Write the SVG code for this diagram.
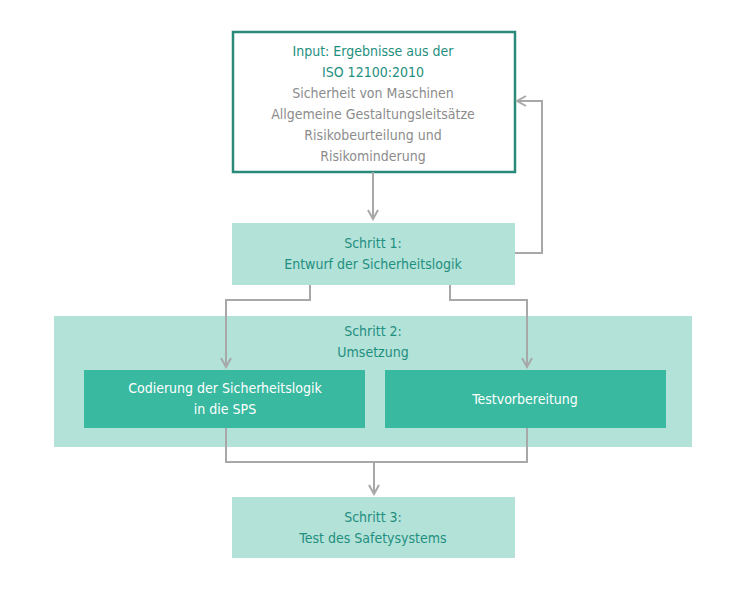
<svg xmlns="http://www.w3.org/2000/svg" width="744" height="595" viewBox="0 0 744 595">
<style>
text{font-family:"DejaVu Sans Condensed","Liberation Sans Narrow","Liberation Sans",sans-serif;font-size:14px;text-anchor:middle}
.t{fill:#1f8f80}.g{fill:#8c8c8c}.w{fill:#ffffff}
.light{fill:#b3e2d8}.dark{fill:#38b9a0}
.c{fill:none;stroke:#a8a8a8;stroke-width:2}
</style>
<defs><marker id="a" markerWidth="12" markerHeight="12" refX="10" refY="6" orient="auto" markerUnits="userSpaceOnUse"><path d="M1,1 L10,6 L1,11" fill="none" stroke="#a8a8a8" stroke-width="2"/></marker></defs>
<rect width="744" height="595" fill="#fff"/>
<g id="schritt2"><rect class="light" x="54" y="316" width="638" height="131"/><text class="t" x="373" y="336">Schritt 2:</text><text class="t" x="373" y="357">Umsetzung</text></g>
<g id="input"><rect x="233" y="32" width="282" height="140" fill="#fff" stroke="#2a8a7a" stroke-width="2.5"/>
<text class="t" x="373" y="56">Input: Ergebnisse aus der</text><text class="t" x="373" y="77">ISO 12100:2010</text>
<text class="g" x="373" y="98">Sicherheit von Maschinen</text><text class="g" x="373" y="119">Allgemeine Gestaltungsleitsätze</text>
<text class="g" x="373" y="140">Risikobeurteilung und</text><text class="g" x="373" y="161">Risikominderung</text></g>
<g id="schritt1"><rect class="light" x="232" y="223" width="283" height="62"/><text class="t" x="373" y="248">Schritt 1:</text><text class="t" x="373" y="269">Entwurf der Sicherheitslogik</text></g>
<g id="codierung"><rect class="dark" x="84" y="370" width="281" height="58"/><text class="w" x="225" y="393">Codierung der Sicherheitslogik</text><text class="w" x="225" y="414">in die SPS</text></g>
<g id="test"><rect class="dark" x="385" y="370" width="281" height="58"/><text class="w" x="525" y="404">Testvorbereitung</text></g>
<g id="schritt3"><rect class="light" x="232" y="497" width="283" height="61"/><text class="t" x="373" y="522">Schritt 3:</text><text class="t" x="373" y="543">Test des Safetysystems</text></g>
<g id="connectors">
<path class="c" d="M373,172 V219" marker-end="url(#a)"/>
<path class="c" d="M515,253 H542 V101 H517" marker-end="url(#a)"/>
<path class="c" d="M310,285 V300 H226 V367" marker-end="url(#a)"/>
<path class="c" d="M450,285 V300 H527 V367" marker-end="url(#a)"/>
<path class="c" d="M226,428 V462 H527 V428"/>
<path class="c" d="M374,462 V494" marker-end="url(#a)"/>
</g>
</svg>
